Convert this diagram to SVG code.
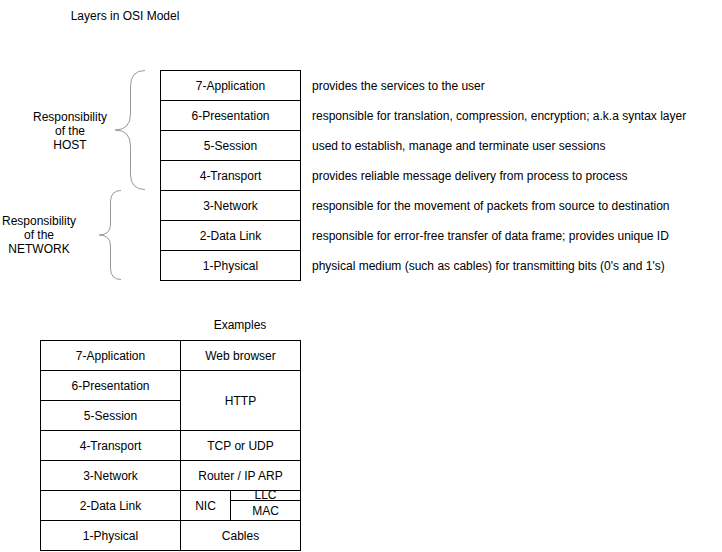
<svg xmlns="http://www.w3.org/2000/svg" width="722" height="552" viewBox="0 0 722 552">
<style>
text{font-family:"Liberation Sans",Arial,Helvetica,sans-serif;font-size:12px;fill:#000}
.c{text-anchor:middle}
.cell{fill:#fff;stroke:#000;stroke-width:1}
.brace{fill:none;stroke:#999;stroke-width:1}
</style>
<rect width="722" height="552" fill="#fff"/>
<text id="title" x="125" y="20" class="c">Layers in OSI Model</text>
<g id="osi-stack">
<g id="l7"><rect class="cell" x="160.5" y="70.5" width="140" height="30"/><text x="230.5" y="89.5" class="c">7-Application</text></g>
<g id="l6"><rect class="cell" x="160.5" y="100.5" width="140" height="30"/><text x="230.5" y="119.5" class="c">6-Presentation</text></g>
<g id="l5"><rect class="cell" x="160.5" y="130.5" width="140" height="30"/><text x="230.5" y="149.5" class="c">5-Session</text></g>
<g id="l4"><rect class="cell" x="160.5" y="160.5" width="140" height="30"/><text x="230.5" y="179.5" class="c">4-Transport</text></g>
<g id="l3"><rect class="cell" x="160.5" y="190.5" width="140" height="30"/><text x="230.5" y="209.5" class="c">3-Network</text></g>
<g id="l2"><rect class="cell" x="160.5" y="220.5" width="140" height="30"/><text x="230.5" y="239.5" class="c">2-Data Link</text></g>
<g id="l1"><rect class="cell" x="160.5" y="250.5" width="140" height="30"/><text x="230.5" y="269.5" class="c">1-Physical</text></g>
</g>
<g id="descriptions">
<text x="312" y="89.5">provides the services to the user</text>
<text x="312" y="119.5">responsible for translation, compression, encryption; a.k.a syntax layer</text>
<text x="312" y="149.5">used to establish, manage and terminate user sessions</text>
<text x="312" y="179.5">provides reliable message delivery from process to process</text>
<text x="312" y="209.5">responsible for the movement of packets from source to destination</text>
<text x="312" y="239.5">responsible for error-free transfer of data frame; provides unique ID</text>
<text x="312" y="269.5">physical medium (such as cables) for transmitting bits (0's and 1's)</text>
</g>
<g id="host-brace">
<path class="brace" d="M145,70.5 Q130.5,70.5 130.5,86 L130.5,114 Q130.5,130 115,130 Q130.5,130 130.5,146 L130.5,174 Q130.5,189.5 145,189.5"/>
<text x="70" y="121" class="c">Responsibility</text>
<text x="70" y="135" class="c">of the</text>
<text x="70" y="149" class="c">HOST</text>
</g>
<g id="network-brace">
<path class="brace" d="M121,190.5 Q110.5,190.5 110.5,202 L110.5,224 Q110.5,235 99,235 Q110.5,235 110.5,246 L110.5,268 Q110.5,279.5 121,279.5"/>
<text x="39" y="225" class="c">Responsibility</text>
<text x="39" y="239" class="c">of the</text>
<text x="39" y="253" class="c">NETWORK</text>
</g>
<text id="examples-title" x="240" y="329" class="c">Examples</text>
<g id="examples">
<g id="e7"><rect class="cell" x="40.5" y="340.5" width="140" height="30"/><text x="110.5" y="359.5" class="c">7-Application</text></g>
<g id="e6"><rect class="cell" x="40.5" y="370.5" width="140" height="30"/><text x="110.5" y="389.5" class="c">6-Presentation</text></g>
<g id="e5"><rect class="cell" x="40.5" y="400.5" width="140" height="30"/><text x="110.5" y="419.5" class="c">5-Session</text></g>
<g id="e4"><rect class="cell" x="40.5" y="430.5" width="140" height="30"/><text x="110.5" y="449.5" class="c">4-Transport</text></g>
<g id="e3"><rect class="cell" x="40.5" y="460.5" width="140" height="30"/><text x="110.5" y="479.5" class="c">3-Network</text></g>
<g id="e2"><rect class="cell" x="40.5" y="490.5" width="140" height="30"/><text x="110.5" y="509.5" class="c">2-Data Link</text></g>
<g id="e1"><rect class="cell" x="40.5" y="520.5" width="140" height="30"/><text x="110.5" y="539.5" class="c">1-Physical</text></g>
<g id="x7"><rect class="cell" x="180.5" y="340.5" width="120" height="30"/><text x="240.5" y="359.5" class="c">Web browser</text></g>
<g id="x65"><rect class="cell" x="180.5" y="370.5" width="120" height="60"/><text x="240.5" y="404.5" class="c">HTTP</text></g>
<g id="x4"><rect class="cell" x="180.5" y="430.5" width="120" height="30"/><text x="240.5" y="449.5" class="c">TCP or UDP</text></g>
<g id="x3"><rect class="cell" x="180.5" y="460.5" width="120" height="30"/><text x="240.5" y="479.5" class="c">Router / IP ARP</text></g>
<g id="x2nic"><rect class="cell" x="180.5" y="490.5" width="50" height="30"/><text x="205.5" y="509.5" class="c">NIC</text></g>
<g id="x2llc"><rect class="cell" x="230.5" y="490.5" width="70" height="10"/><text x="265.5" y="499" class="c">LLC</text><line x1="230.5" y1="490.5" x2="300.5" y2="490.5" stroke="#000"/></g>
<g id="x2mac"><rect class="cell" x="230.5" y="500.5" width="70" height="20"/><text x="265.5" y="515" class="c">MAC</text></g>
<g id="x1"><rect class="cell" x="180.5" y="520.5" width="120" height="30"/><text x="240.5" y="539.5" class="c">Cables</text></g>
</g>
</svg>
